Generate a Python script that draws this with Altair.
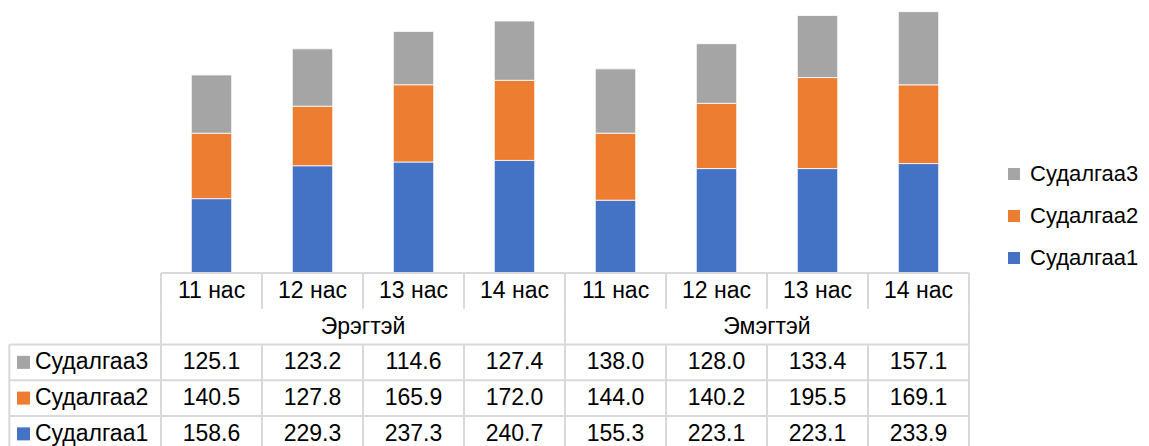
import altair as alt
import pandas as pd

# ---------------- data ----------------
ages = ["11 нас", "12 нас", "13 нас", "14 нас"]
groups = ["Эрэгтэй", "Эмэгтэй"]
series = ["Судалгаа1", "Судалгаа2", "Судалгаа3"]
s1 = [158.6, 229.3, 237.3, 240.7, 155.3, 223.1, 223.1, 233.9]
s2 = [140.5, 127.8, 165.9, 172.0, 144.0, 140.2, 195.5, 169.1]
s3 = [125.1, 123.2, 114.6, 127.4, 138.0, 128.0, 133.4, 157.1]
colors = ["#4472C4", "#ED7D31", "#A5A5A5"]

# ---------------- layout / style ----------------
W, H = 1133, 438
X0, X1 = 153, 961          # plot area / table columns
XL = 1.3                   # left edge of the data-table label column
Y0, RH = 265, 35.75        # table top and row height
BASE, YMAX = 264.5, 568    # bar baseline and value scale max
FONT = "Liberation Sans"
FS = 23
GRID = "#d9d9d9"

cols = [f"{g} {a}" for g in groups for a in ages]
ncol = len(cols)
values = [s1, s2, s3]
step = (X1 - X0) / ncol
xl_u = (XL - X0) / step

# bars
bars_df = pd.DataFrame([
    {"col": cols[i], "series": series[k], "si": k, "v": values[k][i]}
    for k in range(3) for i in range(ncol)
])

# table texts
txt = []
for i in range(ncol):
    txt.append({"x": i + 0.5, "y": 0.5, "label": ages[i % len(ages)]})
for g in range(len(groups)):
    txt.append({"x": g * len(ages) + len(ages) / 2, "y": 1.5, "label": groups[g]})
for k in range(3):
    row = 2 + (2 - k)
    for i in range(ncol):
        txt.append({"x": i + 0.5, "y": row + 0.5, "label": f"{values[k][i]:.1f}"})
txt_df = pd.DataFrame(txt)

rowlab_df = pd.DataFrame([
    {"series": series[k], "y": 2 + (2 - k) + 0.5} for k in range(3)
])

# grid lines
vlines = []
for e in range(ncol + 1):
    vlines.append({"x": e, "y": 0, "y2": 1})
for e in range(0, ncol + 1, len(ages)):
    vlines.append({"x": e, "y": 1, "y2": 2})
for e in list(range(ncol + 1)) + [xl_u]:
    vlines.append({"x": e, "y": 2, "y2": 5})
vl_df = pd.DataFrame(vlines)

hlines = [{"x": 0, "x2": ncol, "y": 0}]
for r in [2, 3, 4]:
    hlines.append({"x": xl_u, "x2": ncol, "y": r})
hl_df = pd.DataFrame(hlines)

# ---------------- scales ----------------
xb = alt.Scale(domain=cols, range=[X0, X1], paddingInner=0, paddingOuter=0)
yb = alt.Scale(domain=[0, YMAX], range=[BASE, 0], nice=False, zero=True)
xq = alt.Scale(domain=[0, ncol], range=[X0, X1], nice=False, zero=False)
yq = alt.Scale(domain=[0, 5], range=[Y0, Y0 + 5 * RH], nice=False, zero=False)
cs = alt.Scale(domain=series, range=colors)

legend = alt.Legend(
    orient="none", legendX=995, legendY=155, title=None,
    values=series[::-1], symbolType="square", symbolSize=144,
    symbolStrokeWidth=0, labelFont=FONT, labelFontSize=22,
    labelColor="black", rowPadding=20, labelOffset=5, padding=0,
    labelLimit=300,
)

bars = alt.Chart(bars_df).mark_bar(
    width={"band": 0.4}, stroke="white", strokeWidth=0.8
).encode(
    x=alt.X("col:N", scale=xb, axis=None, sort=cols),
    y=alt.Y("v:Q", scale=yb, axis=None, stack="zero"),
    color=alt.Color("series:N", scale=cs, legend=legend),
    order=alt.Order("si:Q"),
)

vrules = alt.Chart(vl_df).mark_rule(color=GRID, strokeWidth=2).encode(
    x=alt.X("x:Q", scale=xq, axis=None),
    y=alt.Y("y:Q", scale=yq, axis=None),
    y2="y2:Q",
)

hrules = alt.Chart(hl_df).mark_rule(color=GRID, strokeWidth=2).encode(
    x=alt.X("x:Q", scale=xq, axis=None),
    x2="x2:Q",
    y=alt.Y("y:Q", scale=yq, axis=None),
)

texts = alt.Chart(txt_df).mark_text(
    font=FONT, fontSize=FS, color="black", align="center", baseline="middle"
).encode(
    x=alt.X("x:Q", scale=xq, axis=None),
    y=alt.Y("y:Q", scale=yq, axis=None),
    text="label:N",
)

squares = alt.Chart(rowlab_df).mark_square(size=169, opacity=1).encode(
    x=alt.value(15.5),
    y=alt.Y("y:Q", scale=yq, axis=None),
    color=alt.Color("series:N", scale=cs, legend=legend),
)

rowlabels = alt.Chart(rowlab_df).mark_text(
    font=FONT, fontSize=FS, color="black", align="left", baseline="middle"
).encode(
    x=alt.value(27),
    y=alt.Y("y:Q", scale=yq, axis=None),
    text="series:N",
)

chart = alt.layer(
    bars, vrules, hrules, texts, squares, rowlabels
).resolve_scale(
    x="independent", y="independent"
).properties(
    width=W, height=H, padding=0,
    autosize=alt.AutoSizeParams(type="none"),
).configure_view(stroke=None)

chart.save("out.html", embed_options={"renderer": "svg", "actions": False})
